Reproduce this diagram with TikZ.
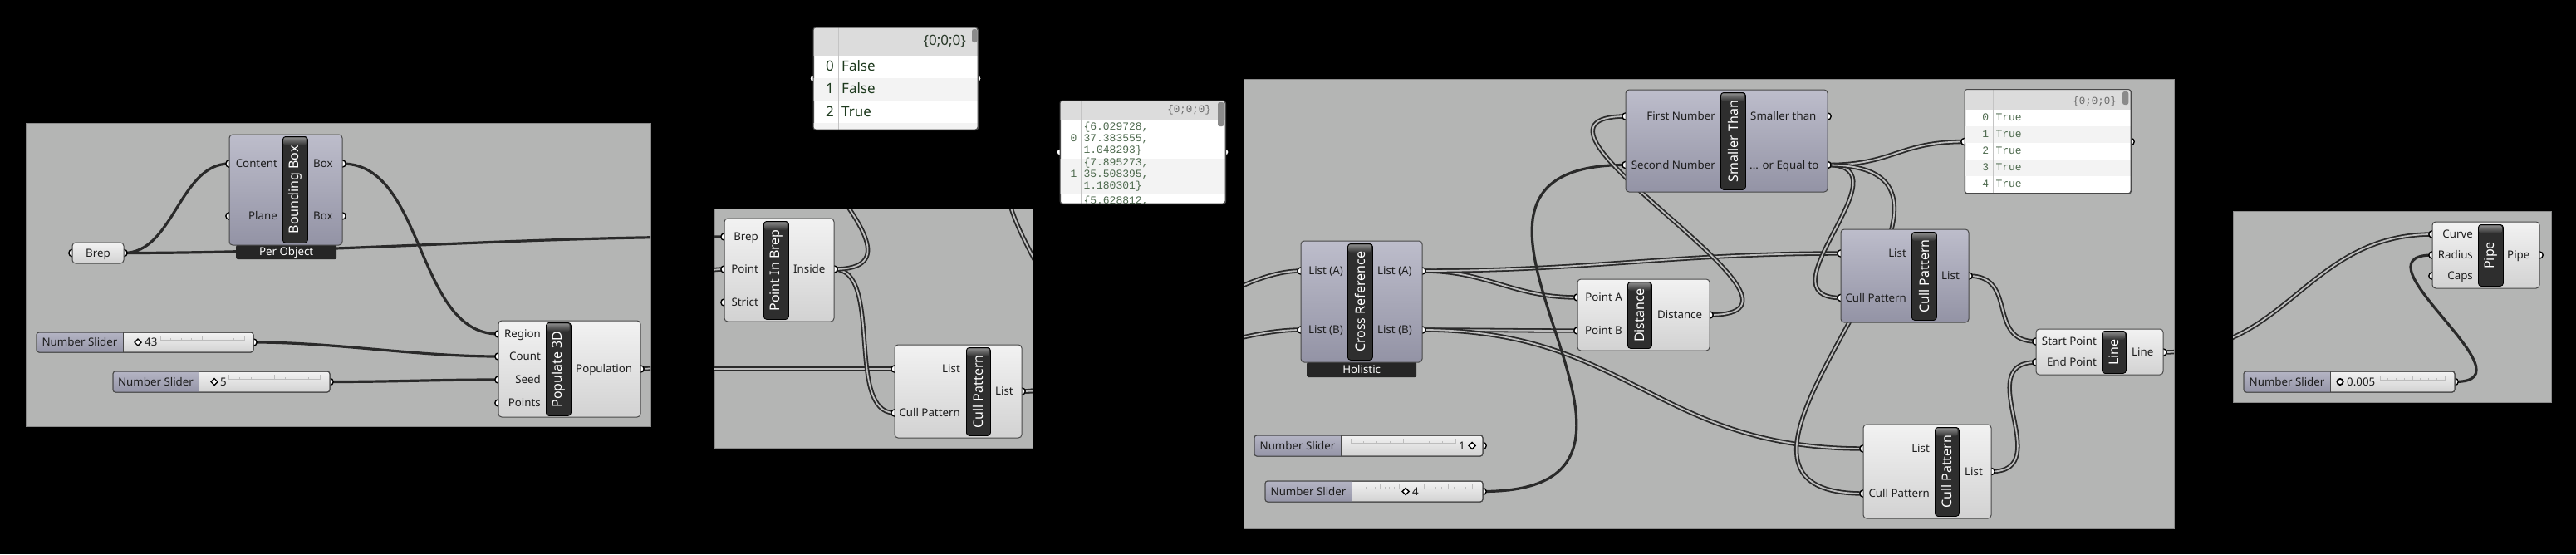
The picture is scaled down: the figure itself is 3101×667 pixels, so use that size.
\documentclass[tikz,border=0pt]{standalone}
\usepackage{fontspec}
\setmainfont{Noto Sans}
\newfontfamily\monof{Liberation Mono}
\usetikzlibrary{calc}
\definecolor{grpc}{HTML}{B4B5B4}
\definecolor{grpedge}{HTML}{8C8C8C}
\definecolor{wirec}{HTML}{2A2A2A}
\definecolor{dwin}{HTML}{BEBEBE}
\definecolor{ltop}{HTML}{F2F2F2}
\definecolor{lbot}{HTML}{D2D2D2}
\definecolor{stop}{HTML}{BDBDCB}
\definecolor{sbot}{HTML}{9393A5}
\definecolor{slt}{HTML}{B4B4C4}
\definecolor{slb}{HTML}{9595A7}
\definecolor{edgec}{HTML}{484848}
\definecolor{bardark}{HTML}{2E2E2E}
\definecolor{bartopc}{HTML}{8A8A8A}
\definecolor{labc}{HTML}{1C1C1C}
\definecolor{tabc}{HTML}{262626}
\definecolor{vgreen}{HTML}{1E3A1E}
\definecolor{mgreen}{HTML}{4E6A4E}
\definecolor{hdr}{HTML}{DCDCDC}
\definecolor{hdrtext}{HTML}{2A3A2A}
\definecolor{mhdr}{HTML}{6A6A6A}
\definecolor{rowalt}{HTML}{F3F3F3}
\definecolor{sepc}{HTML}{C4C4C4}
\definecolor{thumbc}{HTML}{8A8A8A}
\definecolor{tickc}{HTML}{BDBDBD}
\newcommand{\lblfont}{\fontsize{13.3}{15}\selectfont}
\newcommand{\barfont}{\fontsize{16}{18}\selectfont\bfseries}
\newcommand{\vfont}{\fontsize{17}{20}\selectfont}
\newcommand{\mfont}{\monof\fontsize{13}{15}\selectfont}
\newcommand{\mhfont}{\monof\fontsize{12.5}{15}\selectfont}
\tikzset{
 grp/.style={fill=grpc, draw=grpedge, line width=1},
 sw/.style={draw=wirec, line width=3.2},
 dw/.style={draw=wirec, line width=1.8, double=dwin, double distance=1.8},
 grip/.style={draw=black, fill=white, line width=1.4},
 lbody/.style={draw=edgec, line width=1, rounded corners=4, top color=ltop, bottom color=lbot, inner sep=0, outer sep=0},
 sbody/.style={lbody, top color=stop, bottom color=sbot},
 barbox/.style={fill=bardark, draw=black, line width=0.8, rounded corners=3.5, inner sep=0},
 bartext/.style={text=white, font=\barfont, inner sep=0},
 lbl/.style={text=labc, font=\lblfont, inner sep=0, text height=9.3pt, text depth=0pt},
 tab/.style={fill=tabc, text=white, font=\lblfont, inner sep=0, rounded corners=2.5, text height=9.3pt, text depth=0pt},
 vbox/.style={draw=edgec, line width=1, fill=white, rounded corners=3, inner sep=0},
 vtxt/.style={font=\vfont, text=vgreen, inner sep=0},
 mtxt/.style={font=\mfont, text=mgreen, inner sep=0},
}
\newcommand{\gbody}[6]{\node[#1, anchor=north west, minimum width={#5-#3}, minimum height={#6-#4}] (#2) at (#3,#4) {};}
\newcommand{\gbar}[6]{\node[barbox, anchor=north west, minimum width={#4-#2}, minimum height={#5-#3}] (#1) at (#2,#3) {};
  \shade[top color=bartopc, bottom color=bardark, rounded corners=2.5] ({#2+1.3},{#3+1.3}) rectangle ({#4-1.3},{#3+11});
  \node[bartext, rotate=90] (#1-t) at (#1.center) {#6};}
\newcommand{\ilab}[4]{\node[lbl, anchor=east] (#1) at (#2,#3) {#4};}
\newcommand{\olab}[4]{\node[lbl, anchor=west] (#1) at (#2,#3) {#4};}
\newcommand{\gslider}[6]{\node[lbody, rounded corners=3, anchor=north west, minimum width={#4-#2}, minimum height={#5-#3}] (#1) at (#2,#3) {};
  \begin{scope}\clip[rounded corners=3] (#2,#3) rectangle (#4,#5);
   \shade[top color=slt, bottom color=slb] (#2,#3) rectangle (#6,#5);\end{scope}
  \draw[edgec, line width=1] (#6,#3) -- (#6,#5);
  \draw[edgec, line width=1, rounded corners=3] (#2,#3) rectangle (#4,#5);
  \node[lbl] (#1-n) at ({(#2+#6)/2},{(#3+#5)/2}) {Number Slider};}
\newcommand{\gticks}[3]{\draw[tickc, line width=0.8] (#1,#3) -- (#2,#3);
  \foreach \k in {0,...,8}{\draw[tickc, line width=0.8] ({#1+\k*(#2-#1)/8},{#3+1}) -- ++(0,-3.5);}
  \foreach \k in {0,4,8}{\draw[tickc, line width=0.8] ({#1+\k*(#2-#1)/8},{#3+1}) -- ++(0,-6);}}
\newcommand{\gdia}[2]{\draw[black, line width=1.4, fill=white] (#1,{#2-4}) -- ({#1+4},#2) -- (#1,{#2+4}) -- ({#1-4},#2) -- cycle;}
\newcommand{\wire}[4]{\draw[#1] (#2) .. controls +(#4,0) and +(-#4,0) .. (#3);}
\begin{document}
\begin{tikzpicture}[x=1pt,y=-1pt]
\useasboundingbox (0,0) rectangle (3101,667);
\fill[black] (0,0) rectangle (3101,667);
% group panels
\draw[grp] (31,148) rectangle (783,513);
\draw[grp] (860,251) rectangle (1243,539);
\draw[grp] (1497,95) rectangle (2617,636);
\draw[grp] (2688,254) rectangle (3071,484);
% ports
\coordinate (br-i) at (87,304.5); \coordinate (br-o) at (149,304.5);
\coordinate (bb-i1) at (276,197); \coordinate (bb-i2) at (276,260);
\coordinate (bb-o1) at (412,197); \coordinate (bb-o2) at (412,260);
\coordinate (pop-i1) at (600,402); \coordinate (pop-i2) at (600,429);
\coordinate (pop-i3) at (600,457); \coordinate (pop-i4) at (600,485);
\coordinate (pop-o) at (771,444);
\coordinate (s43-o) at (305,412); \coordinate (s5-o) at (397,459.5);
\coordinate (pib-i1) at (872,285); \coordinate (pib-i2) at (872,324);
\coordinate (pib-i3) at (872,364); \coordinate (pib-o) at (1004,324);
\coordinate (cpa-i1) at (1077,444); \coordinate (cpa-i2) at (1077,497);
\coordinate (cpa-o) at (1230,471);
\coordinate (v1-i) at (979,94.5); \coordinate (v1-o) at (1177,94.5);
\coordinate (v2-i) at (1276,183); \coordinate (v2-o) at (1475,183);
\coordinate (xr-i1) at (1566,326); \coordinate (xr-i2) at (1566,397);
\coordinate (xr-o1) at (1712,326); \coordinate (xr-o2) at (1712,397);
\coordinate (st-i1) at (1957,140); \coordinate (st-i2) at (1957,198.5);
\coordinate (st-o1) at (2200,140); \coordinate (st-o2) at (2200,198.5);
\coordinate (di-i1) at (1899,358); \coordinate (di-i2) at (1899,398);
\coordinate (di-o) at (2058,379);
\coordinate (cp1-i1) at (2216,305); \coordinate (cp1-i2) at (2216,358.5);
\coordinate (cp1-o) at (2370,332);
\coordinate (cp2-i1) at (2243,540); \coordinate (cp2-i2) at (2243,594);
\coordinate (cp2-o) at (2397,567.5);
\coordinate (ln-i1) at (2451,411); \coordinate (ln-i2) at (2451,436);
\coordinate (ln-o) at (2604,424);
\coordinate (v3-i) at (2365,170.5); \coordinate (v3-o) at (2565,170.5);
\coordinate (s1-o) at (1785,536.5); \coordinate (s4-o) at (1785,591.5);
\coordinate (pp-i1) at (2928,282); \coordinate (pp-i2) at (2928,307);
\coordinate (pp-i3) at (2928,332); \coordinate (pp-o) at (3057,307);
\coordinate (s005-o) at (2955,459.5);
% wires
\begin{scope}
\clip (31,148) rectangle (783,513) (860,251) rectangle (1243,539) (1497,95) rectangle (2617,636) (2688,254) rectangle (3071,484);
\wire{sw}{br-o}{bb-i1}{60}
\wire{sw}{br-o}{pib-i1}{250}
\wire{sw}{bb-o1}{pop-i1}{100}
\wire{sw}{s43-o}{pop-i2}{100}
\wire{sw}{s5-o}{pop-i3}{80}
\wire{dw}{pop-o}{cpa-i1}{100}
\wire{dw}{pop-o}{pib-i2}{100}
\wire{dw}{pib-o}{cpa-i2}{60}
\wire{dw}{pib-o}{v1-i}{150}
\wire{dw}{cpa-o}{v2-i}{200}
\wire{dw}{cpa-o}{xr-i1}{100}
\wire{dw}{cpa-o}{xr-i2}{100}
\wire{dw}{xr-o1}{di-i1}{80}
\wire{dw}{xr-o1}{cp1-i1}{200}
\wire{dw}{xr-o2}{di-i2}{80}
\wire{dw}{xr-o2}{cp2-i1}{250}
\wire{sw}{s4-o}{st-i2}{300}
\wire{dw}{di-o}{st-i1}{170}
\wire{dw}{st-o2}{v3-i}{80}
\wire{dw}{st-o2}{cp1-i2}{100}
\wire{dw}{st-o2}{cp2-i2}{260}
\wire{dw}{cp1-o}{ln-i1}{60}
\wire{dw}{cp2-o}{ln-i2}{80}
\wire{dw}{ln-o}{pp-i1}{150}
\wire{sw}{s005-o}{pp-i2}{100}
\end{scope}
% grips
\foreach \p in {br-i,br-o,bb-i1,bb-i2,bb-o1,bb-o2,pop-i1,pop-i2,pop-i3,pop-i4,pop-o,s43-o,s5-o,pib-i1,pib-i2,pib-i3,pib-o,cpa-i1,cpa-i2,cpa-o,v1-i,v1-o,v2-i,v2-o,xr-i1,xr-i2,xr-o1,xr-o2,st-i1,st-i2,st-o1,st-o2,di-i1,di-i2,di-o,cp1-i1,cp1-i2,cp1-o,cp2-i1,cp2-i2,cp2-o,ln-i1,ln-i2,ln-o,v3-i,v3-o,s1-o,s4-o,pp-i1,pp-i2,pp-i3,pp-o,s005-o}
  {\draw[grip] (\p) circle (4.2);}
% ---- panel 1
\node[tab, anchor=north west, minimum width=121, minimum height=18] (bb-tab) at (284,294) {Per Object};
\gbody{sbody}{bb}{276}{162}{412}{295}
\gbar{bb-b}{340}{164}{370}{292}{Bounding Box}
\ilab{bb-l1}{334}{197}{Content} \ilab{bb-l2}{334}{260}{Plane}
\olab{bb-l3}{377}{197}{Box} \olab{bb-l4}{377}{260}{Box}
\gbody{lbody}{br}{87}{292}{149}{317}
\node[lbl] (br-t) at (118,304.5) {Brep};
\gbody{lbody}{pop}{600}{386}{771}{502}
\gbar{pop-b}{657}{388}{687}{500}{Populate 3D}
\ilab{pop-l1}{651}{402}{Region} \ilab{pop-l2}{651}{429}{Count}
\ilab{pop-l3}{651}{457}{Seed} \ilab{pop-l4}{651}{485}{Points}
\olab{pop-l5}{693}{444}{Population}
\gslider{s43}{44}{400}{305}{424}{148}
\gticks{193}{294}{409} \gdia{166}{412}
\node[lbl, anchor=west] (s43-v) at (174,412) {43};
\gslider{s5}{136}{447}{397}{472}{239}
\gticks{275}{385}{456} \gdia{258}{459.5}
\node[lbl, anchor=west] (s5-v) at (265,459.5) {5};
% ---- panel 2
\gbody{lbody}{pib}{872}{263}{1004}{387}
\gbar{pib-b}{919}{266}{949}{384}{Point In Brep}
\ilab{pib-l1}{913}{285}{Brep} \ilab{pib-l2}{913}{324}{Point} \ilab{pib-l3}{913}{364}{Strict}
\olab{pib-l4}{955}{324}{Inside}
\gbody{lbody}{cpa}{1077}{415}{1230}{527}
\gbar{cpa-b}{1163}{418}{1192}{524}{Cull Pattern}
\ilab{cpa-l1}{1156}{444}{List} \ilab{cpa-l2}{1156}{497}{Cull Pattern}
\olab{cpa-l3}{1198}{471}{List}
% ---- viewer 1
\node[vbox, anchor=north west, minimum width=198, minimum height=123] (v1) at (979,33) {};
\begin{scope}
\clip[rounded corners=3] (979,33) rectangle (1177,156);
\fill[hdr] (979,33) rectangle (1177,67);
\fill[rowalt] (979,94) rectangle (1177,121.4);
\fill[rowalt] (979,148) rectangle (1177,156);
\draw[sepc, line width=1] (1009,33) -- (1009,156);
\end{scope}
\draw[edgec, line width=1, rounded corners=3] (979,33) rectangle (1177,156);
\fill[thumbc, rounded corners=2.5] (1170,35) rectangle (1176.5,51);
\node[vtxt, text=hdrtext, anchor=base east] (v1-h) at (1163,54.5) {\{0;0;0\}};
\node[vtxt, anchor=base east] (v1-n0) at (1004,85.5) {0};
\node[vtxt, anchor=base west] (v1-t0) at (1013,85.5) {False};
\node[vtxt, anchor=base east] (v1-n1) at (1004,112.5) {1};
\node[vtxt, anchor=base west] (v1-t1) at (1013,112.5) {False};
\node[vtxt, anchor=base east] (v1-n2) at (1004,140.3) {2};
\node[vtxt, anchor=base west] (v1-t2) at (1013,140.3) {True};
% ---- viewer 2
\node[vbox, anchor=north west, minimum width=199, minimum height=124] (v2) at (1276,121) {};
\begin{scope}
\clip[rounded corners=3] (1276,121) rectangle (1475,245);
\fill[hdr] (1276,121) rectangle (1475,144.3);
\fill[rowalt] (1276,191) rectangle (1475,234.3);
\draw[sepc, line width=1] (1301,121) -- (1301,245);
\node[mtxt, anchor=base west] (v2-a1) at (1304.3,156) {\{6.029728,};
\node[mtxt, anchor=base west] (v2-a2) at (1304.3,170) {37.383555,};
\node[mtxt, anchor=base west] (v2-a3) at (1304.3,184.6) {1.048293\}};
\node[mtxt, anchor=base west] (v2-b1) at (1304.3,199.3) {\{7.895273,};
\node[mtxt, anchor=base west] (v2-b2) at (1304.3,213.3) {35.508395,};
\node[mtxt, anchor=base west] (v2-b3) at (1304.3,227.6) {1.180301\}};
\node[mtxt, anchor=base west] (v2-c1) at (1304.3,245.3) {\{5.628812,};
\node[mtxt, anchor=base east] (v2-n0) at (1296.7,170) {0};
\node[mtxt, anchor=base east] (v2-n1) at (1296.7,213.3) {1};
\end{scope}
\draw[edgec, line width=1, rounded corners=3] (1276,121) rectangle (1475,245);
\fill[thumbc, rounded corners=2.5] (1466,123) rectangle (1473.5,152);
\node[font=\mhfont, text=mhdr, inner sep=0, anchor=base east] (v2-h) at (1458,135.3) {\{0;0;0\}};
% ---- panel 3
\node[tab, anchor=north west, minimum width=132, minimum height=19] (xr-tab) at (1573,435) {Holistic};
\gbody{sbody}{xr}{1566}{290}{1712}{436}
\gbar{xr-b}{1622}{293}{1652}{433}{Cross Reference}
\ilab{xr-l1}{1617}{326}{List (A)} \ilab{xr-l2}{1617}{397}{List (B)}
\olab{xr-l3}{1658}{326}{List (A)} \olab{xr-l4}{1658}{397}{List (B)}
\gbody{sbody}{st}{1957}{108}{2200}{231}
\gbar{st-b}{2071}{111}{2101}{228}{Smaller Than}
\ilab{st-l1}{2065}{140}{First Number} \ilab{st-l2}{2065}{198.5}{Second Number}
\olab{st-l3}{2107}{140}{Smaller than} \olab{st-l4}{2106}{198.5}{... or Equal to}
\gbody{lbody}{di}{1899}{336}{2058}{422}
\gbar{di-b}{1959}{339}{1988}{419}{Distance}
\ilab{di-l1}{1953}{358}{Point A} \ilab{di-l2}{1953}{398}{Point B}
\olab{di-l3}{1995}{379}{Distance}
\gbody{sbody}{cp1}{2216}{276}{2370}{388}
\gbar{cp1-b}{2301}{279}{2331}{385}{Cull Pattern}
\ilab{cp1-l1}{2295}{305}{List} \ilab{cp1-l2}{2295}{358.5}{Cull Pattern}
\olab{cp1-l3}{2337}{332}{List}
\gbody{lbody}{cp2}{2243}{511}{2397}{624}
\gbar{cp2-b}{2329}{514}{2358}{621}{Cull Pattern}
\ilab{cp2-l1}{2323}{540}{List} \ilab{cp2-l2}{2323}{594}{Cull Pattern}
\olab{cp2-l3}{2365}{567.5}{List}
\gbody{lbody}{ln}{2451}{396}{2604}{451}
\gbar{ln-b}{2530}{398}{2559}{449}{Line}
\ilab{ln-l1}{2524}{411}{Start Point} \ilab{ln-l2}{2524}{436}{End Point}
\olab{ln-l3}{2566}{424}{Line}
\gslider{s1}{1510}{524}{1785}{549}{1614}
\gticks{1626}{1752}{533} \gdia{1772}{536.5}
\node[lbl, anchor=east] (s1-v) at (1764,536.5) {1};
\gslider{s4}{1523}{579}{1785}{604}{1627}
\gticks{1639}{1684}{588} \gticks{1714}{1772}{588} \gdia{1692}{591.5}
\node[lbl, anchor=west] (s4-v) at (1700,591.5) {4};
% ---- viewer 3
\node[vbox, anchor=north west, minimum width=200, minimum height=125] (v3) at (2365,107.5) {};
\begin{scope}
\clip[rounded corners=3] (2365,107.5) rectangle (2565,232.7);
\fill[hdr] (2365,107.5) rectangle (2565,131.7);
\fill[rowalt] (2365,151.7) rectangle (2565,171.7);
\fill[rowalt] (2365,191.7) rectangle (2565,211.7);
\draw[sepc, line width=1] (2399,107.5) -- (2399,232.7);
\end{scope}
\draw[edgec, line width=1, rounded corners=3] (2365,107.5) rectangle (2565,232.7);
\fill[thumbc, rounded corners=2.5] (2555,110) rectangle (2562.3,126);
\node[font=\mhfont, text=mhdr, inner sep=0, anchor=base east] (v3-h) at (2548,125) {\{0;0;0\}};
\foreach \i/\yy in {0/141,1/161,2/181,3/200.7,4/220.7}{
  \node[mtxt, anchor=base east] (v3-n\i) at (2394.3,\yy+4.3) {\i};
  \node[mtxt, anchor=base west] (v3-t\i) at (2402.3,\yy+4.3) {True};}
% ---- panel 4
\gbody{lbody}{pp}{2928}{267}{3057}{347}
\gbar{pp-b}{2983}{270}{3013}{344}{Pipe}
\ilab{pp-l1}{2977}{282}{Curve} \ilab{pp-l2}{2977}{307}{Radius} \ilab{pp-l3}{2977}{332}{Caps}
\olab{pp-l4}{3018}{307}{Pipe}
\gslider{s005}{2701}{447}{2955}{472}{2805}
\gticks{2865}{2943}{457}
\draw[black, line width=1.8, fill=white] (2817,459.5) circle (3.6);
\node[lbl, anchor=west] (s005-v) at (2825,459.5) {0.005};
\end{tikzpicture}
\end{document}
